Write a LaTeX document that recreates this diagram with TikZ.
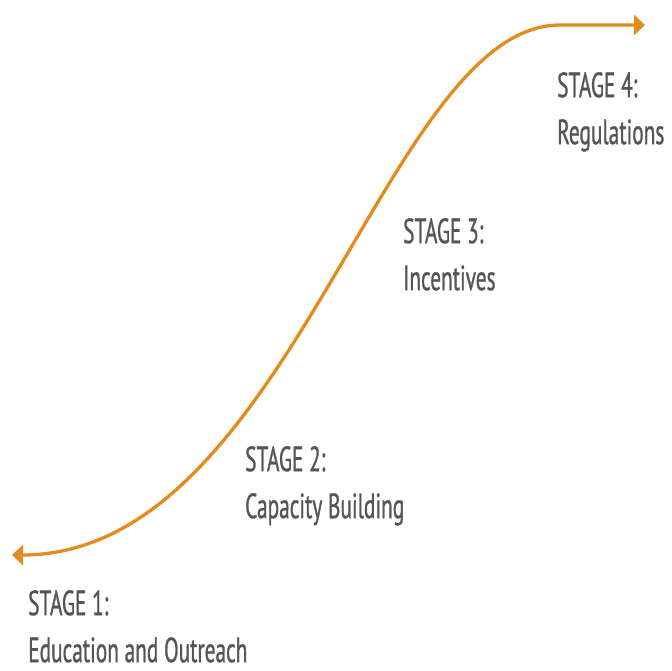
\documentclass[tikz,border=0pt]{standalone}
\usepackage{fontspec}
\setmainfont{PT Sans}[FakeStretch=0.61, FakeBold=0.8]
\usetikzlibrary{arrows.meta}
\definecolor{curveorange}{HTML}{E38B1C}
\definecolor{stagegray}{HTML}{555555}

\begin{document}
\begin{tikzpicture}[x=1pt, y=-1pt, >={Triangle[width=20pt,length=11pt]},
      stage/.style={anchor=north west, inner sep=0pt, align=left,
        text=stagegray, font=\fontsize{35}{47}\selectfont}]
    \useasboundingbox (0,0) rectangle (672,670);
    % the two ends of the curve
    \coordinate (low) at (12,555);
    \coordinate (bend) at (560,25);
    \coordinate (high) at (645,25);
    \draw[curveorange, line width=3.3pt, <->]
      (low) .. controls (290,555) and (385,25) .. (bend) -- (high);
    % stages
    \node (stage1) [stage] at (28,590) {STAGE 1:\\Education and Outreach};
    \node (stage2) [stage] at (245,446) {STAGE 2:\\Capacity Building};
    \node (stage3) [stage] at (403,218) {STAGE 3:\\Incentives};
    \node (stage4) [stage] at (557,72) {STAGE 4:\\Regulations};
  \end{tikzpicture}
\end{document}
